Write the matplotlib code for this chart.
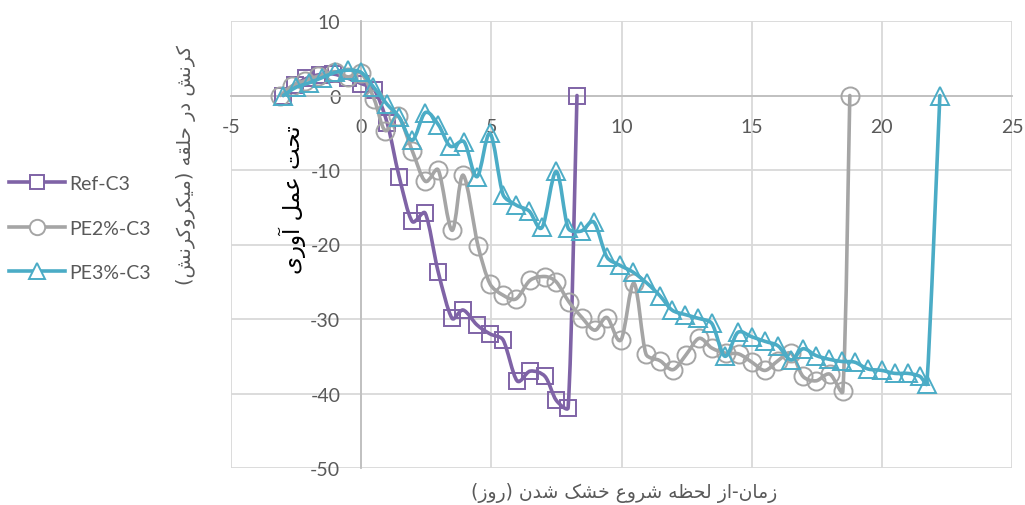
import matplotlib
matplotlib.use("Agg")
import matplotlib.pyplot as plt
from matplotlib.path import Path
from matplotlib.patches import PathPatch
from matplotlib.lines import Line2D
import numpy as np

plt.rcParams["font.family"] = ["Lato", "DejaVu Sans"]
plt.rcParams["axes.unicode_minus"] = False

# ---- data: drying time (days) vs. ring strain (microstrain) ----
ref_x = [-3.0, -2.55, -2.1, -1.6, -1.1, -0.5, 0.0, 0.5, 1.0, 1.46, 1.96, 2.46, 2.96,
         3.49, 3.92, 4.45, 4.95, 5.45, 5.99, 6.49, 7.06, 7.49, 7.95, 8.29]
ref_y = [0.0, 1.4, 2.3, 2.8, 2.9, 2.3, 1.6, 0.8, -3.7, -10.9, -16.9, -15.8, -23.7,
         -29.9, -28.8, -30.8, -32.0, -32.8, -38.3, -37.0, -37.7, -40.9, -41.9, 0.0]

pe2_x = [-3.1, -2.65, -2.15, -1.65, -1.0, -0.5, 0.0, 0.5, 0.92, 1.42, 1.96, 2.46, 2.96,
         3.49, 3.92, 4.49, 4.95, 5.45, 5.95, 6.49, 7.06, 7.49, 7.98, 8.48, 8.98, 9.44,
         9.98, 10.48, 10.94, 11.48, 11.98, 12.48, 12.98, 13.47, 14.01, 14.51, 15.01,
         15.51, 16.01, 16.51, 16.97, 17.47, 18.0, 18.5, 18.77]
pe2_y = [0.0, 1.3, 2.0, 2.6, 3.2, 2.5, 3.0, -0.5, -4.7, -2.8, -7.4, -11.5, -10.0,
         -18.1, -10.7, -20.2, -25.3, -26.8, -27.3, -24.8, -24.3, -25.0, -27.7, -29.8,
         -31.5, -29.8, -32.8, -25.2, -34.7, -35.6, -36.8, -34.8, -32.6, -33.9, -34.6,
         -34.7, -35.8, -36.9, -35.6, -34.6, -37.7, -38.3, -37.4, -39.7, 0.0]

pe3_x = [-2.99, -2.5, -2.0, -1.5, -1.0, -0.5, 0.0, 0.46, 1.0, 1.46, 1.96, 2.46, 2.96,
         3.42, 3.95, 4.45, 4.95, 5.45, 5.95, 6.45, 6.95, 7.49, 7.95, 8.45, 8.94, 9.44,
         9.94, 10.44, 10.98, 11.48, 11.94, 12.44, 12.94, 13.47, 13.97, 14.47, 15.01,
         15.51, 16.01, 16.51, 16.97, 17.47, 17.97, 18.46, 18.96, 19.46, 20.0, 20.5,
         21.0, 21.46, 21.73, 22.23]
pe3_y = [0.0, 1.1, 1.7, 2.4, 3.1, 3.4, 3.1, 1.2, -1.2, -2.9, -6.0, -2.3, -3.9,
         -6.8, -6.2, -10.9, -5.1, -13.3, -14.7, -15.5, -17.7, -10.2, -17.8, -18.2,
         -17.0, -21.7, -22.8, -23.7, -25.2, -26.9, -28.8, -29.4, -29.9, -30.6, -35.0,
         -31.8, -32.4, -33.0, -33.6, -35.5, -34.0, -34.9, -35.4, -35.7, -35.8, -36.7,
         -36.9, -37.3, -37.3, -37.7, -38.7, 0.0]

series_names = ["Ref-C3", "PE2%-C3", "PE3%-C3"]

x_label = "زمان-از لحظه شروع خشک شدن (روز)"
y_label_1 = "کرنش در حلقه (میکروکرنش)"
y_label_2 = "تحت عمل آوری"

# ---- minimal Persian shaping (contextual forms + right-to-left order) ----
FORMS = {
    '\u0622': ('\uFE81', '\uFE82', None, None),
    '\u0627': ('\uFE8D', '\uFE8E', None, None),
    '\u062A': ('\uFE95', '\uFE96', '\uFE97', '\uFE98'),
    '\u062D': ('\uFEA1', '\uFEA2', '\uFEA3', '\uFEA4'),
    '\u062E': ('\uFEA5', '\uFEA6', '\uFEA7', '\uFEA8'),
    '\u062F': ('\uFEA9', '\uFEAA', None, None),
    '\u0631': ('\uFEAD', '\uFEAE', None, None),
    '\u0632': ('\uFEAF', '\uFEB0', None, None),
    '\u0634': ('\uFEB5', '\uFEB6', '\uFEB7', '\uFEB8'),
    '\u0638': ('\uFEC5', '\uFEC6', '\uFEC7', '\uFEC8'),
    '\u0639': ('\uFEC9', '\uFECA', '\uFECB', '\uFECC'),
    '\u0642': ('\uFED5', '\uFED6', '\uFED7', '\uFED8'),
    '\u0644': ('\uFEDD', '\uFEDE', '\uFEDF', '\uFEE0'),
    '\u0645': ('\uFEE1', '\uFEE2', '\uFEE3', '\uFEE4'),
    '\u0646': ('\uFEE5', '\uFEE6', '\uFEE7', '\uFEE8'),
    '\u0647': ('\uFEE9', '\uFEEA', '\uFEEB', '\uFEEC'),
    '\u0648': ('\uFEED', '\uFEEE', None, None),
    '\u06A9': ('\uFB8E', '\uFB8F', '\uFB90', '\uFB91'),
    '\u06CC': ('\uFBFC', '\uFBFD', '\uFBFE', '\uFBFF'),
}


def rtl(text):
    out = []
    for i, c in enumerate(text):
        if c not in FORMS:
            out.append(c)
            continue
        prev = text[i - 1] if i > 0 else ''
        nxt = text[i + 1] if i + 1 < len(text) else ''
        join_prev = prev in FORMS and FORMS[prev][2] is not None
        join_next = nxt in FORMS and FORMS[c][2] is not None
        iso, fin, ini, med = FORMS[c]
        if join_prev and join_next:
            out.append(med)
        elif join_prev:
            out.append(fin)
        elif join_next:
            out.append(ini)
        else:
            out.append(iso)
    return ''.join(out)[::-1].translate(str.maketrans('()', ')('))


def _clip(v, limit):
    n = np.hypot(*v)
    return v * (limit / n) if n > limit and n > 0 else v


def smooth_path(ax, xs, ys):
    """Cubic Bezier path through every point (Catmull-Rom tangents, built in
    screen space and capped by the segment length to avoid overshoot)."""
    to_px = ax.transData
    p = to_px.transform(np.column_stack([xs, ys]).astype(float))
    n = len(p)
    verts = [p[0]]
    codes = [Path.MOVETO]
    for i in range(n - 1):
        p0 = p[i - 1] if i > 0 else p[i]
        p1, p2 = p[i], p[i + 1]
        p3 = p[i + 2] if i + 2 < n else p[i + 1]
        seg = np.hypot(*(p2 - p1))
        c1 = p1 + _clip((p2 - p0) / 6.0, seg / 3.0)
        c2 = p2 - _clip((p3 - p1) / 6.0, seg / 3.0)
        verts += [c1, c2, p2]
        codes += [Path.CURVE4] * 3
    verts = to_px.inverted().transform(np.array(verts))
    return Path(verts, codes)


W, H = 1025, 506
fig = plt.figure(figsize=(W / 100, H / 100), dpi=100)
ax = fig.add_axes([231 / W, 1 - 469 / H, (1012 - 231) / W, (469 - 22) / H])

ax.set_xlim(-5, 25)
ax.set_ylim(-50, 10)
ax.set_xticks(np.arange(-5, 26, 5))
ax.set_yticks(np.arange(-50, 11, 10))

grid_c = "#D9D9D9"
ax.grid(True, color=grid_c, linewidth=1.3)
ax.set_axisbelow(True)
for side in ("top", "right"):
    ax.spines[side].set_visible(False)
ax.spines["left"].set_position(("data", 0))
ax.spines["bottom"].set_position(("data", 0))
for side in ("left", "bottom"):
    ax.spines[side].set_color("#BFBFBF")
    ax.spines[side].set_linewidth(1.3)

ax.tick_params(axis="both", length=0, labelsize=14, labelcolor="#595959")
ax.tick_params(axis="x", pad=16)
ax.tick_params(axis="y", pad=15)

styles = [
    dict(color="#7F63A6", marker="s", ms=11.5),
    dict(color="#A5A5A5", marker="o", ms=13),
    dict(color="#4BACC6", marker="^", ms=13),
]
data = [(ref_x, ref_y), (pe2_x, pe2_y), (pe3_x, pe3_y)]

handles = []
for k, ((xs, ys), st, name) in enumerate(zip(data, styles, series_names)):
    patch = PathPatch(smooth_path(ax, xs, ys), fill=False, edgecolor=st["color"],
                      linewidth=2.6, capstyle="round", joinstyle="round",
                      zorder=3 + 2 * k)
    ax.add_patch(patch)
    ax.plot(xs, ys, linestyle="none", marker=st["marker"], ms=st["ms"],
            markerfacecolor="none", markeredgecolor=st["color"],
            markeredgewidth=1.4, zorder=4 + 2 * k, clip_on=False)
    handles.append(Line2D([], [], color=st["color"], linewidth=2.6,
                          marker=st["marker"], ms=st["ms"] * 0.85,
                          markerfacecolor="white", markeredgecolor=st["color"],
                          markeredgewidth=1.4, label=name))

fig.legend(handles=handles, loc="upper left", bbox_to_anchor=(9 / W, 1 - 176 / H),
           frameon=False, fontsize=14, labelcolor="#595959", handlelength=2.9,
           labelspacing=1.42, handletextpad=0.2, numpoints=1,
           borderpad=0, borderaxespad=0)

fig.text(624 / W, 1 - 493 / H, rtl(x_label), ha="center", va="center",
         fontsize=13.5, color="#595959", family=["DejaVu Sans"])
fig.text(186 / W, 1 - 165 / H, rtl(y_label_1), ha="center", va="center",
         rotation=90, fontsize=14, color="#595959", family=["DejaVu Sans"])
fig.text(292 / W, 1 - 200 / H, rtl(y_label_2), ha="center", va="center",
         rotation=90, fontsize=16.5, color="black", family=["DejaVu Sans"])

fig.savefig("out.png", dpi=100)
